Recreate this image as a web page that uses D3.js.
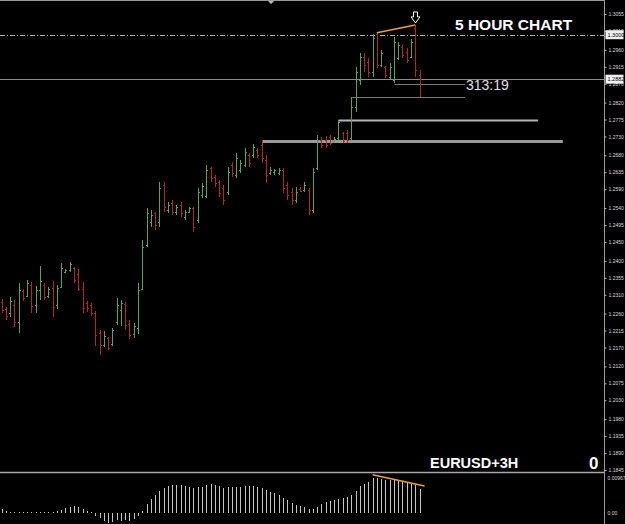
<!DOCTYPE html>
<html>
<head>
<meta charset="utf-8">
<script src="https://cdn.jsdelivr.net/npm/d3@7"></script>
<style>
  html, body { margin: 0; padding: 0; background: #000; }
  svg { display: block; }
</style>
</head>
<body>
<div id="chart"></div>
<script>
// EURUSD 5 hour bars (price values)
const barOpen = [1.2291,1.2272,1.2262,1.2283,1.2238,1.2320,1.2307,1.2336,1.2283,1.2323,
  1.2336,1.2307,1.2328,1.2283,1.2331,1.2371,1.2376,1.2381,1.2365,1.2325,
  1.2288,1.2283,1.2262,1.2209,1.2177,1.2195,1.2180,1.2238,1.2270,1.2286,
  1.2233,1.2206,1.2222,1.2325,1.2442,1.2503,1.2527,1.2503,1.2601,1.2535,
  1.2554,1.2530,1.2548,1.2516,1.2530,1.2540,1.2508,1.2575,1.2572,1.2646,
  1.2623,1.2609,1.2593,1.2583,1.2654,1.2628,1.2641,1.2654,1.2681,1.2681,
  1.2694,1.2707,1.2668,1.2633,1.2636,1.2633,1.2641,1.2601,1.2583,1.2562,
  1.2591,1.2588,1.2588,1.2535,1.2646,1.2721,1.2721,1.2729,1.2718,1.2726,
  1.2739,1.2739,1.2726,1.2808,1.2880,1.2941,1.2928,1.2901,1.3002,1.2920,
  1.2914,1.2888,1.2880,1.2938,1.2967,1.2954,1.2941,1.3018,1.2893];
const barHigh = [1.2299,1.2278,1.2304,1.2296,1.2341,1.2325,1.2349,1.2344,1.2333,1.2386,
  1.2341,1.2331,1.2347,1.2336,1.2394,1.2378,1.2397,1.2384,1.2378,1.2344,
  1.2294,1.2288,1.2267,1.2217,1.2214,1.2198,1.2222,1.2302,1.2296,1.2291,
  1.2243,1.2235,1.2341,1.2455,1.2540,1.2535,1.2530,1.2609,1.2609,1.2556,
  1.2562,1.2548,1.2556,1.2535,1.2543,1.2543,1.2593,1.2607,1.2654,1.2649,
  1.2628,1.2615,1.2601,1.2649,1.2662,1.2686,1.2668,1.2699,1.2686,1.2710,
  1.2699,1.2721,1.2681,1.2649,1.2644,1.2646,1.2646,1.2609,1.2593,1.2596,
  1.2596,1.2609,1.2593,1.2646,1.2734,1.2729,1.2731,1.2734,1.2729,1.2774,
  1.2742,1.2747,1.2835,1.2914,1.2951,1.2951,1.2938,1.3002,1.3005,1.2959,
  1.2917,1.2925,1.2994,1.2981,1.2973,1.2965,1.2989,1.3026,1.2906];
const barLow = [1.2262,1.2243,1.2251,1.2225,1.2209,1.2294,1.2304,1.2262,1.2262,1.2296,
  1.2296,1.2302,1.2251,1.2272,1.2328,1.2368,1.2371,1.2341,1.2320,1.2262,
  1.2264,1.2254,1.2174,1.2150,1.2172,1.2164,1.2174,1.2230,1.2227,1.2217,
  1.2193,1.2195,1.2206,1.2323,1.2437,1.2490,1.2482,1.2490,1.2530,1.2527,
  1.2522,1.2522,1.2516,1.2508,1.2527,1.2477,1.2501,1.2567,1.2567,1.2609,
  1.2596,1.2569,1.2548,1.2575,1.2623,1.2620,1.2633,1.2649,1.2649,1.2673,
  1.2673,1.2660,1.2607,1.2628,1.2628,1.2628,1.2580,1.2562,1.2548,1.2554,
  1.2583,1.2583,1.2522,1.2527,1.2641,1.2699,1.2699,1.2707,1.2715,1.2721,
  1.2713,1.2713,1.2721,1.2795,1.2867,1.2901,1.2888,1.2888,1.2912,1.2914,
  1.2885,1.2880,1.2872,1.2933,1.2938,1.2925,1.2938,1.2888,1.2835];
const barClose = [1.2270,1.2254,1.2294,1.2238,1.2323,1.2302,1.2341,1.2280,1.2323,1.2347,
  1.2304,1.2325,1.2278,1.2328,1.2381,1.2376,1.2392,1.2349,1.2325,1.2275,
  1.2275,1.2262,1.2203,1.2177,1.2201,1.2169,1.2217,1.2283,1.2288,1.2230,
  1.2203,1.2227,1.2323,1.2437,1.2527,1.2522,1.2495,1.2593,1.2543,1.2548,
  1.2530,1.2543,1.2527,1.2530,1.2540,1.2490,1.2583,1.2599,1.2641,1.2620,
  1.2607,1.2580,1.2562,1.2636,1.2633,1.2673,1.2660,1.2689,1.2660,1.2702,
  1.2681,1.2673,1.2628,1.2641,1.2641,1.2641,1.2593,1.2575,1.2562,1.2583,
  1.2585,1.2601,1.2535,1.2636,1.2721,1.2707,1.2707,1.2713,1.2723,1.2768,
  1.2718,1.2721,1.2808,1.2901,1.2941,1.2920,1.2901,1.2991,1.2920,1.2951,
  1.2893,1.2914,1.2981,1.2973,1.2946,1.2933,1.2981,1.2906,1.2882];

// oscillator histogram in the lower window
const oscValues = [0.0010,0.00036,0.00018,0.00005,0.0001,0.00003,0.00027,0.0001,0.00018,0.00018,
  0.00027,0.00018,0.00027,0.00045,0.00082,0.00127,0.00163,0.00182,0.00145,0.00091,
  0.00045,0.00005,-0.00109,-0.00154,-0.00245,-0.0029,-0.00272,-0.00218,-0.00245,-0.00218,
  -0.00245,-0.00182,-0.00091,0.00036,0.00227,0.00363,0.00481,0.00599,0.0069,0.00745,
  0.00763,0.00763,0.00763,0.00745,0.00717,0.0069,0.00708,0.00708,0.00763,0.00781,
  0.00763,0.00726,0.0069,0.00708,0.00708,0.00708,0.00708,0.00726,0.00726,0.00726,
  0.00708,0.00681,0.00617,0.00572,0.00527,0.00481,0.00409,0.00345,0.00254,0.00218,
  0.00182,0.00145,0.00091,0.00109,0.00163,0.00236,0.0029,0.00318,0.00345,0.00381,
  0.00409,0.00436,0.0049,0.00599,0.00726,0.00799,0.00844,0.00953,0.00962,0.00935,
  0.00908,0.00908,0.00899,0.00872,0.00844,0.00817,0.00799,0.00772,0.00663];

const priceTicks = [1.3055,1.3010,1.2960,1.2915,1.2870,1.2820,1.2775,1.2730,1.2680,
  1.2635,1.2590,1.2540,1.2495,1.2450,1.2400,1.2355,1.2310,1.2260,1.2215,1.2170,
  1.2120,1.2075,1.2030,1.1980,1.1935,1.1890,1.1845];
const oscTicks = [0, 0.00967];
const oscTickLabels = ["0.00", "0.00967"];

// horizontal levels: price, first bar, last bar (beyond the data)
const levelPrice = [1.2718, 1.2774, 1.2835, 1.2868];
const levelFrom = [61, 79, 82, 92];
const levelTo = [131.6, 125.8, 108.7, 108.7];

const bidPrice = 1.2882;
const roundPrice = 1.3000;
const timerText = "313:19";

// trend lines: [bar, value] pairs
const priceTrend = [[88, 1.3005], [97, 1.3026]];
const oscTrend = [[87, 0.0104], [99.2, 0.0073]];

const w = 625;
const h = 524;
const axisX = 604.5;

const svg = d3.select("#chart").append("svg")
  .attr("width", w)
  .attr("height", h)
  .style("background", "#000")
  .style("font-family", "Arial, 'Liberation Sans', sans-serif");

const xScale = d3.scaleLinear()
  .domain([0, barOpen.length - 1])
  .range([1.5, 419.5]);

const yScale = d3.scaleLinear()
  .domain([1.1845, 1.3055])
  .range([470, 14]);

const oscScale = d3.scaleLinear()
  .domain([0, 0.00967])
  .range([512.5, 477.5]);

const px = v => Math.round(v) + 0.5;

// frame lines
svg.append("line").attr("x1", 0).attr("x2", axisX).attr("y1", 0.5).attr("y2", 0.5)
  .attr("stroke", "#9a9a9a");
svg.append("line").attr("x1", axisX).attr("x2", axisX).attr("y1", 0).attr("y2", h)
  .attr("stroke", "#9a9a9a");
svg.append("line").attr("x1", 0).attr("x2", axisX).attr("y1", 472.5).attr("y2", 472.5)
  .attr("stroke", "#a8a8a8").attr("stroke-width", 1.5);

// chart shift marker
const shiftX = xScale(63.2);
svg.append("path")
  .attr("d", `M${shiftX - 3},1 L${shiftX + 3},1 L${shiftX},4 Z`)
  .attr("fill", "#b8c0c8");

// round number and bid lines
svg.append("line")
  .attr("x1", 0).attr("x2", axisX)
  .attr("y1", px(yScale(roundPrice))).attr("y2", px(yScale(roundPrice)))
  .attr("stroke", "#b0b0b0")
  .attr("stroke-dasharray", "5,2,1,2");

svg.append("line")
  .attr("x1", 0).attr("x2", axisX)
  .attr("y1", px(yScale(bidPrice))).attr("y2", px(yScale(bidPrice)))
  .attr("stroke", "#8c8c8c");

// levels
const levelStroke = ["#9a9a9a", "#b4b4b4", "#7a7a7a", "#7a7a7a"];
const levelWidth = [3, 2, 1, 1];
levelPrice.forEach((p, i) => {
  svg.append("line")
    .attr("x1", px(xScale(levelFrom[i])))
    .attr("x2", xScale(levelTo[i]))
    .attr("y1", px(yScale(p)))
    .attr("y2", px(yScale(p)))
    .attr("stroke", levelStroke[i])
    .attr("stroke-width", levelWidth[i]);
});

// OHLC bars
const bars = barOpen.map((o, i) => ({
  i: i, o: o, h: barHigh[i], l: barLow[i], c: barClose[i]
}));
const barColor = d => d.c >= d.o ? "#5e9e5e" : "#a82a2a";

const barG = svg.append("g").attr("shape-rendering", "crispEdges");
barG.selectAll("line.hl")
  .data(bars)
  .join("line")
    .attr("class", "hl")
    .attr("x1", d => px(xScale(d.i)))
    .attr("x2", d => px(xScale(d.i)))
    .attr("y1", d => yScale(d.h))
    .attr("y2", d => yScale(d.l))
    .attr("stroke", barColor);
barG.selectAll("line.open")
  .data(bars)
  .join("line")
    .attr("class", "open")
    .attr("x1", d => px(xScale(d.i)) - 1.5)
    .attr("x2", d => px(xScale(d.i)))
    .attr("y1", d => px(yScale(d.o)))
    .attr("y2", d => px(yScale(d.o)))
    .attr("stroke", barColor);
barG.selectAll("line.close")
  .data(bars)
  .join("line")
    .attr("class", "close")
    .attr("x1", d => px(xScale(d.i)))
    .attr("x2", d => px(xScale(d.i)) + 1.5)
    .attr("y1", d => px(yScale(d.c)))
    .attr("y2", d => px(yScale(d.c)))
    .attr("stroke", barColor);

// trend line on price highs
svg.append("line")
  .attr("x1", xScale(priceTrend[0][0])).attr("y1", yScale(priceTrend[0][1]))
  .attr("x2", xScale(priceTrend[1][0])).attr("y2", yScale(priceTrend[1][1]))
  .attr("stroke", "#e8a040").attr("stroke-width", 1.5);

// down arrow above the last high
const ax = px(xScale(priceTrend[1][0]));
const ay = yScale(priceTrend[1][1]) - 2;
svg.append("path")
  .attr("d", `M${ax - 2},${ay - 11} L${ax + 2},${ay - 11} L${ax + 2},${ay - 6} L${ax + 4.5},${ay - 6}
    L${ax},${ay} L${ax - 4.5},${ay - 6} L${ax - 2},${ay - 6} Z`)
  .attr("fill", "#000")
  .attr("stroke", "#fff")
  .attr("stroke-width", 1);

// oscillator histogram
svg.append("g").attr("shape-rendering", "crispEdges")
  .selectAll("line")
  .data(oscValues)
  .join("line")
    .attr("x1", (d, i) => px(xScale(i)))
    .attr("x2", (d, i) => px(xScale(i)))
    .attr("y1", oscScale(0))
    .attr("y2", d => oscScale(d))
    .attr("stroke", "#c4c4c4");

svg.append("line")
  .attr("x1", xScale(oscTrend[0][0])).attr("y1", oscScale(oscTrend[0][1]))
  .attr("x2", xScale(oscTrend[1][0])).attr("y2", oscScale(oscTrend[1][1]))
  .attr("stroke", "#e8a040").attr("stroke-width", 1.5);

// price axis
const yAxis = d3.axisRight(yScale)
  .tickValues(priceTicks)
  .tickFormat(d3.format(".4f"))
  .tickSize(2)
  .tickPadding(2);

svg.append("g")
  .attr("transform", `translate(${axisX}, 0)`)
  .call(yAxis)
  .call(g => g.select(".domain").remove())
  .call(g => g.selectAll(".tick line").attr("stroke", "#bbb"))
  .call(g => g.selectAll(".tick text")
    .attr("fill", "#d8d8d8")
    .style("font-size", "5px")
    .style("font-family", "Arial, 'Liberation Sans', sans-serif"));

const oscAxis = d3.axisRight(oscScale)
  .tickValues(oscTicks)
  .tickFormat((d, i) => oscTickLabels[i])
  .tickSize(0)
  .tickPadding(3);

svg.append("g")
  .attr("transform", `translate(${axisX}, 0)`)
  .call(oscAxis)
  .call(g => g.select(".domain").remove())
  .call(g => g.selectAll(".tick text")
    .attr("fill", "#d8d8d8")
    .style("font-size", "5px")
    .style("font-family", "Arial, 'Liberation Sans', sans-serif"));

// boxed price labels
[roundPrice, bidPrice].forEach(p => {
  const y = yScale(p);
  svg.append("rect")
    .attr("x", axisX + 1).attr("y", y - 4.5)
    .attr("width", 18).attr("height", 9)
    .attr("fill", "#f0f0f0");
  svg.append("text")
    .attr("x", axisX + 3).attr("y", y)
    .attr("dy", "0.35em")
    .attr("fill", "#000")
    .style("font-size", "5.5px")
    .text(d3.format(".4f")(p));
});

// texts
svg.append("text")
  .attr("x", 455).attr("y", 29.5)
  .attr("fill", "#fff")
  .style("font-size", "15.5px")
  .style("font-weight", "bold")
  .text("5 HOUR CHART");

svg.append("text")
  .attr("x", 466).attr("y", 90)
  .attr("fill", "#e0e0e0")
  .style("font-size", "14px")
  .text(timerText);

svg.append("text")
  .attr("x", 430).attr("y", 467.5)
  .attr("fill", "#fff")
  .style("font-size", "14.5px")
  .style("font-weight", "bold")
  .text("EURUSD+3H");

svg.append("text")
  .attr("x", 589).attr("y", 469)
  .attr("fill", "#fff")
  .style("font-size", "17px")
  .style("font-weight", "bold")
  .text("0");
</script>
</body>
</html>
